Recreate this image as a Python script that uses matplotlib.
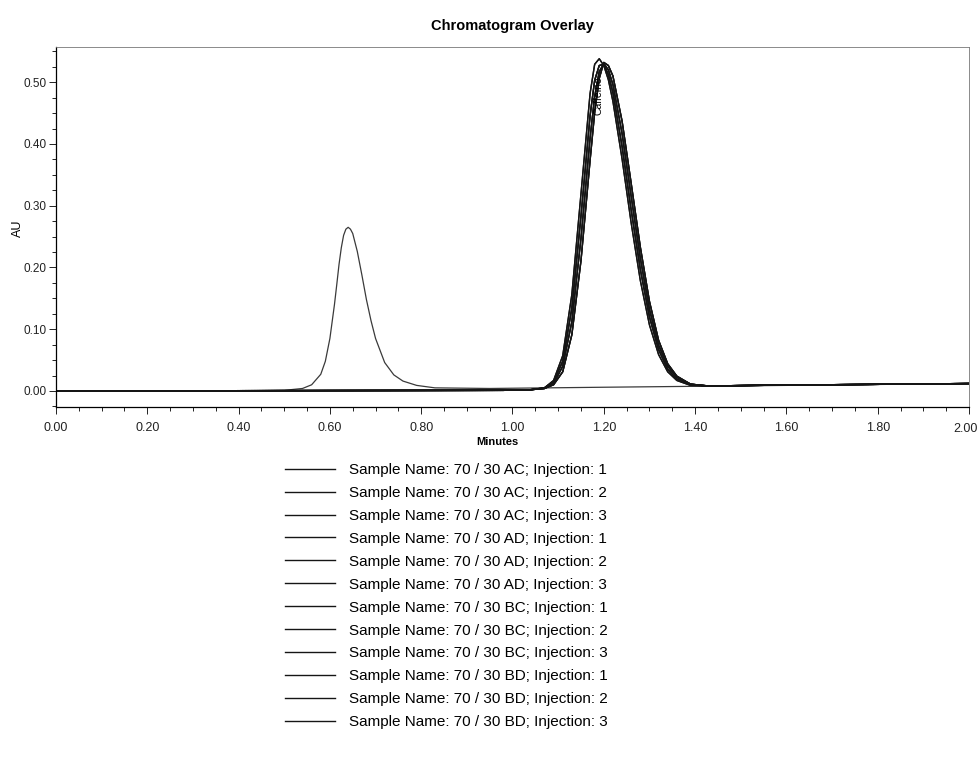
import matplotlib
matplotlib.use("Agg")
import matplotlib.pyplot as plt
from matplotlib.ticker import MultipleLocator, FormatStrFormatter

plt.rcParams['font.family'] = ['Liberation Sans', 'DejaVu Sans']

# trace with the early peak (~0.64 min), no main peak
t_first = [0.00, 0.39, 0.50, 0.54, 0.56, 0.58, 0.59, 0.60, 0.61, 0.615, 0.62, 0.625, 0.63,
           0.635, 0.64, 0.645, 0.65, 0.66, 0.67, 0.68, 0.69, 0.70, 0.72, 0.74, 0.76, 0.79,
           0.83, 0.95, 1.20, 2.00]
y_first = [0.000, 0.000, 0.001, 0.004, 0.010, 0.027, 0.048, 0.085, 0.140, 0.172, 0.205, 0.232, 0.252,
           0.262, 0.265, 0.262, 0.255, 0.226, 0.188, 0.148, 0.114, 0.085, 0.046, 0.026, 0.016, 0.009,
           0.005, 0.004, 0.006, 0.012]

# main peak traces (~1.20 min), four slightly shifted shapes
t_main = [0.00, 0.98, 1.04, 1.07, 1.09, 1.11, 1.13, 1.15, 1.17, 1.18, 1.19, 1.20,
          1.21, 1.22, 1.24, 1.26, 1.28, 1.30, 1.32, 1.34, 1.36, 1.39, 1.43, 1.53, 2.00]
peak_a = [0.000, 0.001, 0.002, 0.005, 0.017, 0.057, 0.156, 0.319, 0.482, 0.529, 0.538, 0.527,
          0.504, 0.469, 0.376, 0.272, 0.179, 0.107, 0.059, 0.031, 0.017, 0.009, 0.008, 0.009, 0.012]
peak_b = [0.000, 0.001, 0.002, 0.005, 0.015, 0.048, 0.134, 0.283, 0.446, 0.503, 0.527, 0.529,
          0.512, 0.483, 0.396, 0.293, 0.197, 0.120, 0.067, 0.035, 0.019, 0.010, 0.008, 0.009, 0.012]
peak_c = [0.000, 0.001, 0.002, 0.004, 0.012, 0.040, 0.112, 0.247, 0.410, 0.477, 0.517, 0.530,
          0.520, 0.496, 0.417, 0.315, 0.215, 0.132, 0.074, 0.040, 0.022, 0.011, 0.008, 0.009, 0.012]
peak_d = [0.000, 0.001, 0.002, 0.004, 0.010, 0.031, 0.091, 0.211, 0.374, 0.451, 0.506, 0.532,
          0.527, 0.510, 0.437, 0.336, 0.233, 0.145, 0.082, 0.044, 0.024, 0.011, 0.008, 0.009, 0.012]

samples = ['AC', 'AC', 'AC', 'AD', 'AD', 'AD', 'BC', 'BC', 'BC', 'BD', 'BD', 'BD']
injections = [1, 2, 3, 1, 2, 3, 1, 2, 3, 1, 2, 3]
# which shape each of the remaining 11 injections follows
main_shapes = [peak_a, peak_a, peak_b, peak_b, peak_b, peak_c, peak_c, peak_d, peak_d, peak_d, peak_c]

x_ticks = [0.0, 0.2, 0.4, 0.6, 0.8, 1.0, 1.2, 1.4, 1.6, 1.8]

fig = plt.figure(figsize=(9.79, 7.64), dpi=100)
ax = fig.add_axes([56 / 979, 1 - 407 / 764, (969 - 56) / 979, 360 / 764])

labels = ['Sample Name: 70 / 30 %s; Injection: %d' % (s, i) for s, i in zip(samples, injections)]
ax.plot(t_first, y_first, color='#3a3a3a', lw=0.9, label=labels[0])
for shape, lab in zip(main_shapes, labels[1:]):
    ax.plot(t_main, shape, color='#151515', lw=1.0, label=lab)

ax.text(1.188, 0.447, 'Caffeine', rotation=90, fontsize=7.5, ha='center', va='bottom')

ax.set_xlim(0, 2.0)
ax.set_ylim(-0.026, 0.557)
ax.set_xticks(x_ticks + [2.0])
ax.xaxis.set_minor_locator(MultipleLocator(0.05))
ax.yaxis.set_major_locator(MultipleLocator(0.1))
ax.yaxis.set_minor_locator(MultipleLocator(0.025))
ax.set_xticklabels(['%.2f' % v for v in x_ticks] + [''])
ax.yaxis.set_major_formatter(FormatStrFormatter('%.2f'))
ax.tick_params(which='both', direction='out', width=0.7, colors='#222')
ax.tick_params(which='major', length=5)
ax.tick_params(which='minor', length=3)
ax.tick_params(axis='x', pad=6, labelsize=9)
ax.tick_params(axis='y', pad=1.5, labelsize=8.5)

for side in ['left', 'bottom']:
    ax.spines[side].set_linewidth(0.9)
for side in ['top', 'right']:
    ax.spines[side].set_linewidth(0.6)
    ax.spines[side].set_color('#777')

# last x label sits at the right edge of the page
fig.text(978 / 979, 1 - 429 / 764, '2.00', ha='right', va='center', fontsize=9, color='#222')

fig.text(512 / 979, 1 - 26 / 764, 'Chromatogram Overlay', ha='center', va='center',
         fontsize=10.5, fontweight='bold')
fig.text(18 / 979, 1 - 228 / 764, 'AU', rotation=90, ha='center', va='center', fontsize=9)
fig.text(497 / 979, 1 - 442 / 764, 'Minutes', ha='center', va='center', fontsize=8, fontweight='bold')

leg = fig.legend(loc='upper left', bbox_to_anchor=(285 / 979, 1 - 463 / 764), frameon=False,
                 fontsize=11, handlelength=3.3, handletextpad=0.9, labelspacing=0.585,
                 borderpad=0, borderaxespad=0)
for line in leg.get_lines():
    line.set_linewidth(1.0)
    line.set_color('#151515')

fig.savefig('out.png', dpi=100)
